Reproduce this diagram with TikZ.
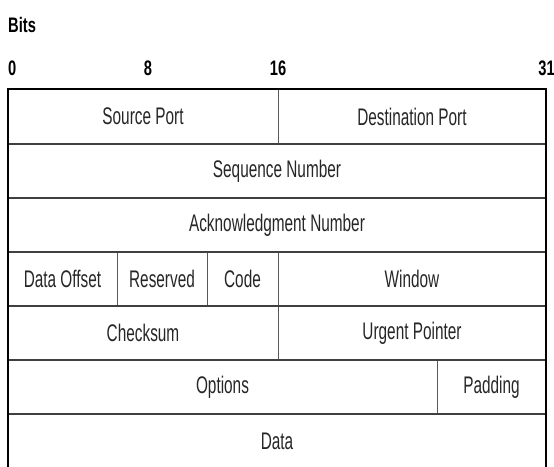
\documentclass[tikz,border=0pt]{standalone}
\usepackage{fontspec}
\setmainfont{Liberation Sans}
\usepackage{graphicx}
\usetikzlibrary{positioning}
\newcommand{\fld}[1]{\raisebox{-4pt}{\scalebox{0.64}[1]{#1}}}
\newcommand{\bitno}[1]{\scalebox{0.7}[1]{\bfseries #1}}
\tikzstyle{cell} = [rectangle, inner sep=0pt, outer sep=0pt, text=black!85, font=\fontsize{24}{26}\selectfont]
\tikzstyle{bit} = [inner sep=0pt, font=\fontsize{21}{23}\selectfont]
\tikzstyle{sep} = [draw=black!65, line width=0.9pt]
\tikzstyle{rowline} = [draw=black!75, line width=1.6pt]
\tikzstyle{frame} = [draw=black, line width=1.8pt]

\begin{document}
\begin{tikzpicture}[x=1pt, y=-1pt]
  \useasboundingbox (0,0) rectangle (554,466);
  % bit positions
  \node[bit, anchor=base west] (bits) at (8,32) {\bitno{Bits}};
  \node[bit, anchor=base west] (b0) at (8,75) {\bitno{0}};
  \node[bit, anchor=base] (b8) at (148,75) {\bitno{8}};
  \node[bit, anchor=base] (b16) at (278,75) {\bitno{16}};
  \node[bit, anchor=base east] (b31) at (555,75) {\bitno{31}};

  % row 1
  \node[cell, minimum width=270, minimum height=55] (src) at (143,116.5) {\fld{Source Port}};
  \node[cell, minimum width=268, minimum height=55] (dst) at (412,116.5) {\fld{Destination Port}};

  % row 2 and 3
  \node[cell, minimum width=538, minimum height=54] (seq) at (277,171) {\fld{Sequence Number}};
  \node[cell, minimum width=538, minimum height=54] (ack) at (277,225) {\fld{Acknowledgment Number}};

  % row 4
  \node[cell, minimum width=109, minimum height=54] (off) at (62.5,279) {\fld{Data Offset}};
  \node[cell, minimum width=90, minimum height=54] (res) at (162,279) {\fld{Reserved}};
  \node[cell, minimum width=71, minimum height=54] (code) at (242.5,279) {\fld{Code}};
  \node[cell, minimum width=268, minimum height=54] (win) at (412,279) {\fld{Window}};

  % row 5
  \node[cell, minimum width=270, minimum height=54] (chk) at (143,333) {\fld{Checksum}};
  \node[cell, minimum width=268, minimum height=54] (urg) at (412,333) {\fld{Urgent Pointer}};

  % row 6
  \node[cell, minimum width=429, minimum height=54] (opt) at (222.5,387) {\fld{Options}};
  \node[cell, minimum width=109, minimum height=54] (pad) at (491.5,387) {\fld{Padding}};

  % data
  \node[cell, minimum width=538, minimum height=54] (data) at (277,441) {\fld{Data}};

  % column separators
  \draw[sep] (src.north east) -- (src.south east);
  \draw[sep] (off.north east) -- (off.south east);
  \draw[sep] (res.north east) -- (res.south east);
  \draw[sep] (code.north east) -- (code.south east);
  \draw[sep] (chk.north east) -- (chk.south east);
  \draw[sep] (opt.north east) -- (opt.south east);

  % row lines
  \draw[rowline] (src.south west) -- (dst.south east);
  \draw[rowline] (seq.south west) -- (seq.south east);
  \draw[rowline] (ack.south west) -- (ack.south east);
  \draw[rowline] (off.south west) -- (win.south east);
  \draw[rowline] (chk.south west) -- (urg.south east);
  \draw[rowline] (opt.south west) -- (pad.south east);

  % outer frame
  \draw[frame] (data.south west) -- (src.north west) -- (dst.north east) -- (data.south east);
\end{tikzpicture}
\end{document}
